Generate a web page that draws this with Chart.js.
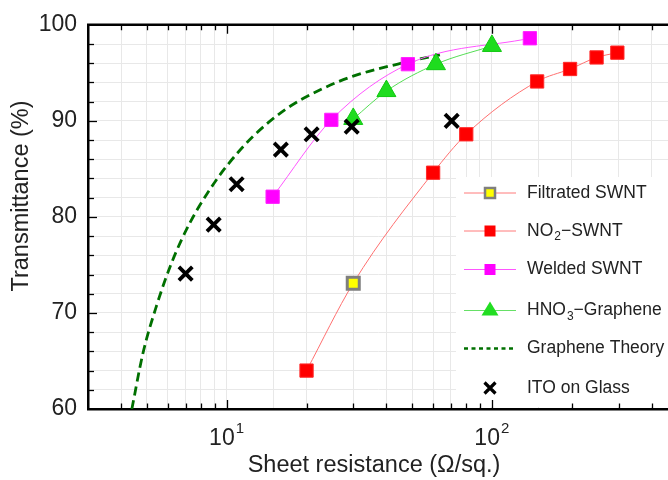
<!DOCTYPE html>
<html><head><meta charset="utf-8">
<script src="https://cdn.jsdelivr.net/npm/chart.js@4/dist/chart.umd.min.js"></script>
<style>html,body{margin:0;padding:0;background:#fff;}#wrap{width:668px;height:480px;}</style>
</head><body><div id="wrap"><canvas id="c" width="668" height="480"></canvas></div>
<script>
// ---- data ----
const filtratedX = [30];
const filtratedY = [73.1];
const no2X = [20, 30, 60, 80, 148, 197, 248, 297];
const no2Y = [64.0, 73.1, 84.6, 88.6, 94.1, 95.4, 96.6, 97.1];
const weldedX = [14.9, 24.8, 48.2, 139];
const weldedY = [82.1, 90.1, 95.9, 98.6];
const hno3X = [30, 40, 61.5, 100];
const hno3Y = [90.2, 93.1, 95.9, 97.8];
const theoryX = [4.39, 4.83, 5.43, 6.22, 7.25, 8.63, 10, 12.57, 16.8, 22.43, 29.97, 47.66, 63.66];
const theoryY = [60, 65.76, 70.69, 75.32, 79.33, 82.83, 85.3, 88.38, 91.26, 93.21, 94.65, 96.13, 96.88];
const itoX = [7.0, 8.93, 10.9, 16.0, 20.9, 29.6, 70.5];
const itoY = [74.1, 79.2, 83.4, 87.0, 88.6, 89.4, 90.0];
const xTickLabels = [{v: 10, base: '10', exp: '1'}, {v: 100, base: '10', exp: '2'}];
const yTickLabels = [60, 70, 80, 90, 100];
const seriesNames = ['Filtrated SWNT', 'NO2\u2212SWNT', 'Welded SWNT', 'HNO3\u2212Graphene', 'Graphene Theory', 'ITO on Glass'];
const xTitle = 'Sheet resistance (\u03A9/sq.)';
const yTitle = 'Transmittance (%)';

const pts = (xs, ys) => xs.map((x, i) => ({x: x, y: ys[i]}));
const FONT = "'Liberation Sans', Arial, sans-serif";

const deco = {
  id: 'deco',
  afterDatasetsDraw(chart) {
    const ctx = chart.ctx;
    ctx.save();
    // legend box
    ctx.fillStyle = '#fff';
    ctx.fillRect(456, 177, 212, 230);
    const rows = [
      {y: 193, parts: [['Filtrated SWNT', 0]], kind: 'filt'},
      {y: 231, parts: [['NO', 0], ['2', 1], ['\u2212SWNT', 0]], kind: 'no2'},
      {y: 269.5, parts: [['Welded SWNT', 0]], kind: 'weld'},
      {y: 310.5, parts: [['HNO', 0], ['3', 1], ['\u2212Graphene', 0]], kind: 'hno3'},
      {y: 348.5, parts: [['Graphene Theory', 0]], kind: 'theo'},
      {y: 388, parts: [['ITO on Glass', 0]], kind: 'ito'}
    ];
    rows.forEach(r => {
      const y = r.y, mx = 490;
      ctx.setLineDash([]);
      if (r.kind !== 'ito') {
        ctx.beginPath();
        ctx.moveTo(464, y); ctx.lineTo(516, y);
        if (r.kind === 'theo') { ctx.strokeStyle = '#007000'; ctx.lineWidth = 2.5; ctx.setLineDash([4, 3.5]); }
        else if (r.kind === 'weld') { ctx.strokeStyle = '#ff55ff'; ctx.lineWidth = 1; }
        else if (r.kind === 'hno3') { ctx.strokeStyle = '#66e066'; ctx.lineWidth = 1; }
        else { ctx.strokeStyle = '#ff7b7b'; ctx.lineWidth = 1; }
        ctx.stroke();
        ctx.setLineDash([]);
      }
      if (r.kind === 'filt') {
        ctx.fillStyle = '#ffff00'; ctx.fillRect(mx - 5, y - 5, 10, 10);
        ctx.strokeStyle = '#7f7f7f'; ctx.lineWidth = 2.5; ctx.strokeRect(mx - 5, y - 5, 10, 10);
      } else if (r.kind === 'no2') {
        ctx.fillStyle = '#ff0000'; ctx.fillRect(mx - 5.5, y - 5.5, 11, 11);
      } else if (r.kind === 'weld') {
        ctx.fillStyle = '#ff00ff'; ctx.fillRect(mx - 5.5, y - 5.5, 11, 11);
      } else if (r.kind === 'hno3') {
        ctx.fillStyle = '#22dd22';
        ctx.beginPath(); ctx.moveTo(mx, y - 9); ctx.lineTo(mx + 8.5, y + 5); ctx.lineTo(mx - 8.5, y + 5); ctx.closePath(); ctx.fill();
      } else if (r.kind === 'ito') {
        ctx.strokeStyle = '#000'; ctx.lineWidth = 3.2;
        ctx.beginPath(); ctx.moveTo(mx - 5.5, y - 5.5); ctx.lineTo(mx + 5.5, y + 5.5); ctx.moveTo(mx + 5.5, y - 5.5); ctx.lineTo(mx - 5.5, y + 5.5); ctx.stroke();
      }
      let tx = 527;
      ctx.fillStyle = '#222';
      ctx.textBaseline = 'middle'; ctx.textAlign = 'left';
      r.parts.forEach(p => {
        if (p[1]) {
          ctx.font = '12px ' + FONT;
          ctx.fillText(p[0], tx + 1, y + 6);
          tx += ctx.measureText(p[0]).width + 1;
        } else {
          ctx.font = '17.5px ' + FONT;
          ctx.fillText(p[0], tx, y);
          tx += ctx.measureText(p[0]).width;
        }
      });
    });
    ctx.restore();
  },
  afterDraw(chart) {
    const ctx = chart.ctx, a = chart.chartArea;
    const xs = chart.scales.x, ys = chart.scales.y;
    ctx.save();
    // top border
    ctx.strokeStyle = '#000'; ctx.lineWidth = 2.5;
    ctx.beginPath(); ctx.moveTo(a.left - 1, a.top); ctx.lineTo(a.right, a.top); ctx.stroke();
    // x ticks (inward, bottom & top)
    ctx.lineWidth = 1.3;
    for (let e = 0; e <= 3; e++) {
      for (let m = 1; m <= 9; m++) {
        const v = m * Math.pow(10, e);
        if (v <= xs.min || v >= xs.max) continue;
        const px = Math.round(xs.getPixelForValue(v)) + 0.5;
        const len = m === 1 ? 9 : 5.5;
        ctx.beginPath();
        ctx.moveTo(px, a.bottom); ctx.lineTo(px, a.bottom - len);
        ctx.moveTo(px, a.top); ctx.lineTo(px, a.top + len);
        ctx.stroke();
      }
    }
    // y ticks (inward, left)
    for (let v = 62; v < 100; v += 2) {
      const py = Math.round(ys.getPixelForValue(v)) + 0.5;
      const len = v % 10 === 0 ? 9 : 6;
      ctx.beginPath(); ctx.moveTo(a.left, py); ctx.lineTo(a.left + len, py); ctx.stroke();
    }
    // x tick labels with superscripts
    ctx.fillStyle = '#222';
    xTickLabels.forEach(t => {
      const px = xs.getPixelForValue(t.v);
      ctx.font = '23px ' + FONT; ctx.textAlign = 'right'; ctx.textBaseline = 'alphabetic';
      ctx.fillText(t.base, px + 8, 445);
      ctx.font = '15px ' + FONT; ctx.textAlign = 'left';
      ctx.fillText(t.exp, px + 9, 433);
    });
    // axis titles
    ctx.font = '23.5px ' + FONT; ctx.textAlign = 'center'; ctx.textBaseline = 'middle';
    ctx.fillText(xTitle, 374, 466);
    ctx.save();
    ctx.translate(22, 196); ctx.rotate(-Math.PI / 2);
    ctx.fillText(yTitle, 0, 0);
    ctx.restore();
    ctx.restore();
  }
};

new Chart(document.getElementById('c'), {
  type: 'scatter',
  data: {
    datasets: [
      {label: seriesNames[0], data: pts(filtratedX, filtratedY), showLine: false, order: 1,
        pointStyle: 'rect', pointRadius: 8.5, backgroundColor: '#ffff00', borderColor: '#7f7f7f', borderWidth: 3},
      {label: seriesNames[1], data: pts(no2X, no2Y), showLine: true, order: 2, cubicInterpolationMode: 'monotone',
        borderColor: '#ff7070', borderWidth: 1, pointStyle: 'rect',
        pointRadius: c => (c.raw && filtratedX.includes(c.raw.x) && filtratedY.includes(c.raw.y)) ? 0 : 9.4,
        pointBackgroundColor: '#ff0000', pointBorderColor: '#ff2a2a', pointBorderWidth: 1},
      {label: seriesNames[2], data: pts(weldedX, weldedY), showLine: true, order: 4, cubicInterpolationMode: 'monotone',
        borderColor: '#ff55ff', borderWidth: 1, pointStyle: 'rect', pointRadius: 9.4,
        pointBackgroundColor: '#ff00ff', pointBorderColor: '#ff22ff', pointBorderWidth: 1},
      {label: seriesNames[3], data: pts(hno3X, hno3Y), showLine: true, order: 3, cubicInterpolationMode: 'monotone',
        borderColor: '#55dd55', borderWidth: 1, pointStyle: 'triangle', pointRadius: 11,
        pointBackgroundColor: '#1edc1e', pointBorderColor: '#10c810', pointBorderWidth: 1},
      {label: seriesNames[4], data: pts(theoryX, theoryY), showLine: true, order: 5, cubicInterpolationMode: 'monotone',
        borderColor: '#007000', borderWidth: 2.8, borderDash: [9, 5], pointRadius: 0},
      {label: seriesNames[5], data: pts(itoX, itoY), showLine: false, order: 0,
        pointStyle: 'crossRot', pointRadius: 9.5, borderColor: '#000', borderWidth: 3.8, backgroundColor: '#000'}
    ]
  },
  options: {
    responsive: false, animation: false, devicePixelRatio: 1,
    layout: {autoPadding: false, padding: {top: 20, right: 0, left: 0, bottom: 0}},
    plugins: {legend: {display: false}, tooltip: {enabled: false}},
    scales: {
      x: {
        type: 'logarithmic', min: 3, max: 461, position: 'bottom',
        afterFit: s => { s.height = 71; },
        grid: {color: '#e8e8e8', lineWidth: 1, drawTicks: false},
        border: {color: '#000', width: 2.5},
        ticks: {display: false, autoSkip: false}
      },
      y: {
        type: 'linear', min: 60, max: 100, position: 'left',
        afterFit: s => { s.width = 88; },
        grid: {color: '#e8e8e8', lineWidth: 1, drawTicks: false},
        border: {color: '#000', width: 2.5},
        ticks: {stepSize: 2, autoSkip: false, padding: 11, color: '#222',
          font: {family: FONT, size: 23},
          callback: v => yTickLabels.includes(v) ? String(v) : ''}
      }
    }
  },
  plugins: [deco]
});
</script>
</body></html>
